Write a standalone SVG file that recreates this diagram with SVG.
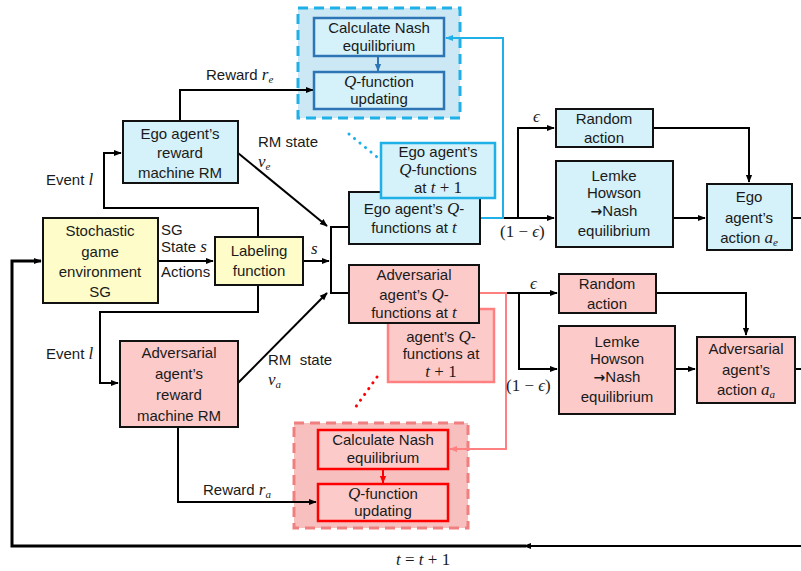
<svg xmlns="http://www.w3.org/2000/svg" width="801" height="571" viewBox="0 0 801 571">
<defs>
<marker id="ahk" viewBox="0 0 10 10" refX="9" refY="5" markerWidth="8" markerHeight="8" orient="auto" markerUnits="userSpaceOnUse"><path d="M0,1 L10,5 L0,9 z" fill="#000"/></marker>
<marker id="ahb" viewBox="0 0 10 10" refX="9" refY="5" markerWidth="8" markerHeight="8" orient="auto" markerUnits="userSpaceOnUse"><path d="M0,1 L10,5 L0,9 z" fill="#1fb0e8"/></marker>
<marker id="ahd" viewBox="0 0 10 10" refX="9" refY="5" markerWidth="8" markerHeight="8" orient="auto" markerUnits="userSpaceOnUse"><path d="M0,1 L10,5 L0,9 z" fill="#2e75b6"/></marker>
<marker id="ahr" viewBox="0 0 10 10" refX="9" refY="5" markerWidth="8" markerHeight="8" orient="auto" markerUnits="userSpaceOnUse"><path d="M0,1 L10,5 L0,9 z" fill="#ff0000"/></marker>
<marker id="ahp" viewBox="0 0 10 10" refX="9" refY="5" markerWidth="8" markerHeight="8" orient="auto" markerUnits="userSpaceOnUse"><path d="M0,1 L10,5 L0,9 z" fill="#ff8080"/></marker>
</defs>
<style>
text{font-family:"Liberation Sans",Arial,sans-serif;font-size:15px;fill:#1a1a1a}
.m{font-family:"Liberation Serif","Times New Roman",serif;font-style:italic;font-size:17px}
.n{font-family:"Liberation Serif","Times New Roman",serif;font-size:17px}
.sub{font-size:11px}
.ar{font-family:"DejaVu Sans",sans-serif;font-weight:bold;font-size:14px}
.c{text-anchor:middle}
.blue{fill:#d5f1f9;stroke:#111;stroke-width:2}
.yel{fill:#fefcc9;stroke:#111;stroke-width:2}
.pink{fill:#fdcaca;stroke:#111;stroke-width:2}
.ln{fill:none;stroke:#000;stroke-width:2}
</style>

<g id="ego-nash-group">
<rect x="298" y="8" width="162" height="110" fill="#cbe8f4" stroke="#1fb0e8" stroke-width="3" stroke-dasharray="10 6"/>
</g>
<g id="adv-nash-group">
<rect x="294" y="423" width="174" height="105" fill="#f8bfbf" stroke="#f08080" stroke-width="3" stroke-dasharray="10 6"/>
</g>

<g id="connectors">
<path class="ln" d="M180,121 V90 H313" marker-end="url(#ahk)"/>
<path class="ln" d="M258,237 V208 H104 V153 H121" marker-end="url(#ahk)"/>
<path class="ln" d="M258,285 V312 H100 V383 H118" marker-end="url(#ahk)"/>
<path class="ln" d="M158,261 H213" marker-end="url(#ahk)"/>
<path class="ln" d="M303,261 H329" marker-end="url(#ahk)"/>
<path class="ln" d="M238,153 L327,226" marker-end="url(#ahk)"/>
<path class="ln" d="M238,383 L327,293" marker-end="url(#ahk)"/>
<path class="ln" d="M349,227 H331 V293 H349"/>
<path class="ln" d="M178,427 V502 H316" marker-end="url(#ahk)"/>
<path class="ln" d="M503,218 H554" marker-end="url(#ahk)"/>
<path class="ln" d="M518,218 V128 H554" marker-end="url(#ahk)"/>
<path class="ln" d="M653,128 H749 V182" marker-end="url(#ahk)"/>
<path class="ln" d="M673,218 H705" marker-end="url(#ahk)"/>
<path class="ln" d="M792,218 H801"/>
<path class="ln" d="M479,293 H557" marker-end="url(#ahk)"/>
<path class="ln" d="M519,293 V369 H557" marker-end="url(#ahk)"/>
<path class="ln" d="M656,293 H746 V335" marker-end="url(#ahk)"/>
<path class="ln" d="M675,369 H695" marker-end="url(#ahk)"/>
<path class="ln" d="M795,369 H801"/>
<path d="M480,218 H503 V38 H446" fill="none" stroke="#1fb0e8" stroke-width="2" marker-end="url(#ahb)"/>
<path d="M480,293 H506 V449 H450" fill="none" stroke="#ff8080" stroke-width="2" marker-end="url(#ahp)"/>
<path d="M378,56 V71" fill="none" stroke="#2e75b6" stroke-width="2" marker-end="url(#ahd)"/>
<path d="M383,469 V483" fill="none" stroke="#ff0000" stroke-width="2" marker-end="url(#ahr)"/>
<path d="M349,134 L377,157" fill="none" stroke="#1fb0e8" stroke-width="3" stroke-dasharray="0.1 7" stroke-linecap="round"/>
<path d="M377,377 L355,408" fill="none" stroke="#ff0000" stroke-width="3" stroke-dasharray="0.1 7" stroke-linecap="round"/>
<path d="M801,546 H524" fill="none" stroke="#000" stroke-width="2" marker-end="url(#ahk)"/>
<path d="M526,546 H12 V261 H41" fill="none" stroke="#000" stroke-width="3" marker-end="url(#ahk)"/>
</g>

<g id="ego-calc-nash">
<rect x="314" y="18" width="130" height="38" fill="#d5f1f9" stroke="#2e75b6" stroke-width="2.5"/>
<text class="c" x="379" y="33">Calculate Nash</text>
<text class="c" x="379" y="51">equilibrium</text>
</g>
<g id="ego-q-update">
<rect x="314" y="72" width="130" height="37" fill="#d5f1f9" stroke="#2e75b6" stroke-width="2.5"/>
<text class="c" x="379" y="87"><tspan class="m">Q</tspan>-function</text>
<text class="c" x="379" y="104">updating</text>
</g>
<g id="adv-calc-nash">
<rect x="318" y="430" width="130" height="39" fill="#fdcaca" stroke="#ff0000" stroke-width="2.5"/>
<text class="c" x="383" y="445">Calculate Nash</text>
<text class="c" x="383" y="463">equilibrium</text>
</g>
<g id="adv-q-update">
<rect x="318" y="484" width="130" height="37" fill="#fdcaca" stroke="#ff0000" stroke-width="2.5"/>
<text class="c" x="383" y="499"><tspan class="m">Q</tspan>-function</text>
<text class="c" x="383" y="516">updating</text>
</g>

<g id="ego-rm">
<rect class="blue" x="123" y="121" width="115" height="62"/>
<text class="c" x="180" y="139">Ego agent’s</text>
<text class="c" x="180" y="158">reward</text>
<text class="c" x="180" y="178">machine RM</text>
</g>
<g id="sg">
<rect class="yel" x="43" y="218" width="115" height="85"/>
<text class="c" x="100" y="236">Stochastic</text>
<text class="c" x="100" y="257">game</text>
<text class="c" x="100" y="277">environment</text>
<text class="c" x="100" y="297">SG</text>
</g>
<g id="labeling">
<rect class="yel" x="215" y="237" width="88" height="48"/>
<text class="c" x="259" y="256">Labeling</text>
<text class="c" x="259" y="276">function</text>
</g>
<g id="adv-rm">
<rect class="pink" x="120" y="341" width="118" height="86"/>
<text class="c" x="179" y="358">Adversarial</text>
<text class="c" x="179" y="379">agent’s</text>
<text class="c" x="179" y="400">reward</text>
<text class="c" x="179" y="421">machine RM</text>
</g>

<g id="ego-q-t">
<rect class="blue" x="349" y="192" width="131" height="52"/>
<text class="c" x="414" y="214">Ego agent’s <tspan class="m">Q</tspan>-</text>
<text class="c" x="414" y="233">functions at <tspan class="m">t</tspan></text>
</g>
<g id="ego-q-t1">
<rect x="381" y="143" width="114" height="55" fill="#d5f1f9" stroke="#1fb0e8" stroke-width="2.5"/>
<text class="c" x="438" y="157">Ego agent’s</text>
<text class="c" x="438" y="175"><tspan class="m">Q</tspan>-functions</text>
<text class="c" x="438" y="193">at <tspan class="m">t</tspan><tspan class="n"> + 1</tspan></text>
</g>

<g id="adv-q-t1">
<rect x="388" y="309" width="106" height="73" fill="#fdcaca" stroke="#ff8080" stroke-width="2.5"/>
<text class="c" x="441" y="342">agent’s <tspan class="m">Q</tspan>-</text>
<text class="c" x="441" y="359">functions at</text>
<text class="c" x="441" y="377"><tspan class="m">t</tspan><tspan class="n"> + 1</tspan></text>
</g>
<g id="adv-q-t">
<rect class="pink" x="349" y="265" width="130" height="58"/>
<text class="c" x="414" y="280">Adversarial</text>
<text class="c" x="414" y="300">agent’s <tspan class="m">Q</tspan>-</text>
<text class="c" x="414" y="318">functions at <tspan class="m">t</tspan></text>
</g>

<g id="ego-random">
<rect class="blue" x="556" y="109" width="97" height="38"/>
<text class="c" x="604" y="124">Random</text>
<text class="c" x="604" y="143">action</text>
</g>
<g id="ego-lemke">
<rect class="blue" x="556" y="161" width="117" height="86"/>
<text class="c" x="614" y="181">Lemke</text>
<text class="c" x="614" y="198">Howson</text>
<text class="c" x="614" y="216"><tspan class="ar">→</tspan>Nash</text>
<text class="c" x="614" y="236">equilibrium</text>
</g>
<g id="ego-action">
<rect class="blue" x="707" y="184" width="85" height="66"/>
<text class="c" x="749" y="202">Ego</text>
<text class="c" x="749" y="223">agent’s</text>
<text class="c" x="749" y="243">action <tspan class="m">a</tspan><tspan class="m sub" dy="3">e</tspan></text>
</g>

<g id="adv-random">
<rect class="pink" x="559" y="274" width="97" height="39"/>
<text class="c" x="607" y="289">Random</text>
<text class="c" x="607" y="309">action</text>
</g>
<g id="adv-lemke">
<rect class="pink" x="559" y="326" width="116" height="88"/>
<text class="c" x="617" y="347">Lemke</text>
<text class="c" x="617" y="364">Howson</text>
<text class="c" x="617" y="382"><tspan class="ar">→</tspan>Nash</text>
<text class="c" x="617" y="402">equilibrium</text>
</g>
<g id="adv-action">
<rect class="pink" x="697" y="337" width="98" height="66"/>
<text class="c" x="746" y="354">Adversarial</text>
<text class="c" x="746" y="375">agent’s</text>
<text class="c" x="746" y="395">action <tspan class="m">a</tspan><tspan class="m sub" dy="3">a</tspan></text>
</g>

<g id="labels">
<text x="206" y="80">Reward <tspan class="m">r</tspan><tspan class="m sub" dy="3">e</tspan></text>
<text x="258" y="147">RM state</text>
<text x="258" y="167" class="m">v<tspan class="sub" dy="3">e</tspan></text>
<text x="46" y="185">Event <tspan class="m">l</tspan></text>
<text x="161" y="235">SG</text>
<text x="161" y="252">State <tspan class="m">s</tspan></text>
<text x="161" y="277">Actions</text>
<text x="311" y="254" class="m">s</text>
<text x="46" y="359">Event <tspan class="m">l</tspan></text>
<text x="268" y="365">RM&#160;&#160;state</text>
<text x="268" y="385" class="m">v<tspan class="sub" dy="3">a</tspan></text>
<text x="203" y="495">Reward <tspan class="m">r</tspan><tspan class="m sub" dy="3">a</tspan></text>
<text x="533" y="122" class="m">ϵ</text>
<text x="500" y="237" class="n">(1 − <tspan class="m">ϵ</tspan>)</text>
<text x="530" y="289" class="m">ϵ</text>
<text x="506" y="391" class="n">(1 − <tspan class="m">ϵ</tspan>)</text>
<text x="396" y="565" class="n"><tspan class="m">t</tspan> = <tspan class="m">t</tspan> + 1</text>
</g>
</svg>
